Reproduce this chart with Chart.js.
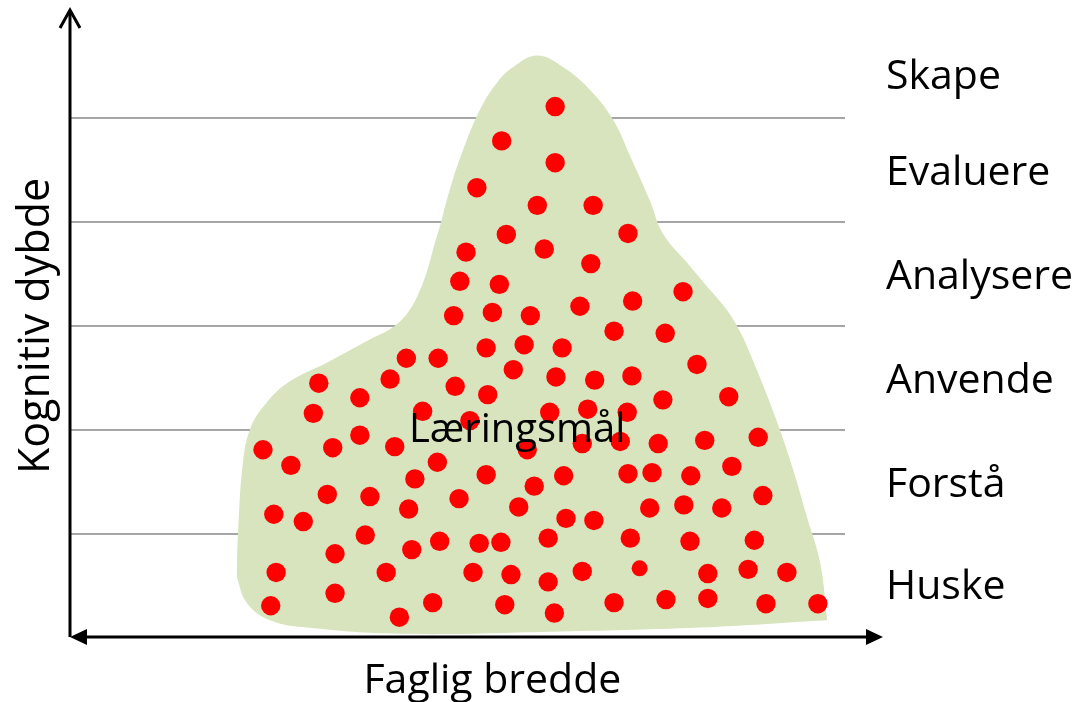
<!DOCTYPE html>
<html lang="no">
<head>
<meta charset="utf-8">
<title>Læringsmål</title>
<script src="https://cdn.jsdelivr.net/npm/chart.js@4.4.1/dist/chart.umd.min.js"></script>
<style>
  html, body { margin: 0; padding: 0; background: #fff; }
  #wrap { width: 1080px; height: 702px; }
</style>
</head>
<body>
<div id="wrap"><canvas id="chart" width="1080" height="702"></canvas></div>
<script>
// Nivåer (høyre side) og hvor de står på y-aksen
const levels = ['Huske', 'Forstå', 'Anvende', 'Analysere', 'Evaluere', 'Skape'];
const levelPos = [0.49, 1.47, 2.47, 3.47, 4.47, 5.39];
const gridLevels = [1, 2, 3, 4, 5];

// Læringsmål (røde prikker)
const dotX = [6.26, 5.57, 6.26, 5.25, 6.03, 6.75, 5.63, 7.2, 5.11, 6.12,
  6.72, 5.03, 5.54, 7.91, 4.95, 5.45, 5.94, 6.58, 7.26, 7.02,
  7.68, 5.37, 5.86, 6.35, 4.34, 4.75, 8.09, 5.72, 6.27, 6.77,
  7.25, 3.21, 4.13, 4.97, 5.39, 3.74, 7.65, 8.5, 3.14, 4.55,
  5.16, 6.19, 6.68, 7.19, 2.49, 3.39, 3.74, 4.19, 5.9, 6.61,
  7.1, 7.59, 8.19, 8.88, 2.85, 4.74, 8.54, 4.45, 5.37, 6.37,
  7.2, 7.51, 8.01, 5.99, 3.32, 3.87, 5.02, 8.94, 4.37, 5.79,
  7.48, 7.92, 8.41, 2.63, 3.01, 6.4, 6.76, 3.81, 4.77, 5.28,
  5.56, 6.17, 7.23, 8, 8.83, 4.41, 3.42, 2.66, 4.08, 5.2,
  5.69, 6.61, 8.23, 8.75, 9.25, 6.17, 3.42, 2.59, 4.68, 5.61,
  7.02, 7.69, 8.23, 8.98, 9.65, 4.25, 6.25];
const dotY = [5.11, 4.78, 4.57, 4.33, 4.16, 4.16, 3.88, 3.89, 3.71, 3.74,
  3.6, 3.43, 3.4, 3.33, 3.1, 3.13, 3.1, 3.19, 3.24, 2.95,
  2.93, 2.79, 2.82, 2.79, 2.69, 2.69, 2.63, 2.58, 2.51, 2.48,
  2.52, 2.45, 2.49, 2.42, 2.34, 2.31, 2.29, 2.32, 2.16, 2.18,
  2.09, 2.17, 2.2, 2.17, 1.81, 1.83, 1.95, 1.84, 1.81, 1.87,
  1.89, 1.87, 1.9, 1.93, 1.66, 1.69, 1.65, 1.53, 1.57, 1.56,
  1.58, 1.59, 1.56, 1.46, 1.38, 1.36, 1.34, 1.37, 1.24, 1.26,
  1.25, 1.28, 1.25, 1.19, 1.12, 1.15, 1.13, 0.99, 0.93, 0.91,
  0.92, 0.96, 0.96, 0.93, 0.94, 0.85, 0.81, 0.63, 0.63, 0.63,
  0.61, 0.64, 0.62, 0.66, 0.63, 0.54, 0.43, 0.31, 0.34, 0.32,
  0.34, 0.37, 0.38, 0.33, 0.33, 0.2, 0.24];
const smallDotX = [7.35];
const smallDotY = [0.67];

// Det grønne feltet: øvre og nedre kant
const blobTopX = [2.15, 2.17, 2.23, 2.32, 2.49, 2.8, 3.32, 3.57, 3.87, 4.15,
  4.36, 4.52, 4.62, 4.7, 4.77, 4.9, 5.07, 5.29, 5.51, 5.72,
  6.03, 6.36, 6.71, 7.01, 7.23, 7.48, 7.65, 7.96, 8.22, 8.48,
  8.65, 8.8, 8.98, 9.16, 9.33, 9.51, 9.68, 9.77];
const blobTopY = [0.59, 1.04, 1.68, 2.0, 2.22, 2.45, 2.65, 2.75, 2.87, 2.98,
  3.13, 3.35, 3.56, 3.78, 3.95, 4.31, 4.69, 5.08, 5.34, 5.49,
  5.6, 5.49, 5.27, 4.98, 4.63, 4.21, 3.89, 3.61, 3.38, 3.15,
  2.94, 2.69, 2.36, 2.0, 1.62, 1.16, 0.72, 0.17];
const blobBottomX = [2.15, 2.28, 2.58, 3.06, 4.26, 6.19, 8.13, 9.77];
const blobBottomY = [0.59, 0.34, 0.17, 0.1, 0.04, 0.06, 0.1, 0.17];

const FONT = "'Open Sans', 'Noto Sans', sans-serif";
const toPoints = (xs, ys) => xs.map((x, i) => ({ x, y: ys[i] }));

// Akser med piler
const axisArrows = {
  id: 'axisArrows',
  afterDraw(chart) {
    const { ctx, chartArea: a } = chart;
    const x0 = a.left;
    const y0 = a.bottom - 1;
    const xEnd = a.right + 38;
    ctx.save();
    ctx.strokeStyle = '#000';
    ctx.fillStyle = '#000';
    ctx.lineWidth = 3;
    ctx.beginPath();
    ctx.moveTo(x0, y0);
    ctx.lineTo(x0, a.top - 3);
    ctx.stroke();
    ctx.beginPath();
    ctx.moveTo(x0 - 10, a.top + 14);
    ctx.lineTo(x0, a.top - 4);
    ctx.lineTo(x0 + 10, a.top + 14);
    ctx.stroke();
    ctx.beginPath();
    ctx.moveTo(x0 + 10, y0);
    ctx.lineTo(xEnd - 10, y0);
    ctx.stroke();
    ctx.beginPath();
    ctx.moveTo(x0, y0);
    ctx.lineTo(x0 + 17, y0 - 8);
    ctx.lineTo(x0 + 17, y0 + 8);
    ctx.closePath();
    ctx.fill();
    ctx.beginPath();
    ctx.moveTo(xEnd, y0);
    ctx.lineTo(xEnd - 17, y0 - 8);
    ctx.lineTo(xEnd - 17, y0 + 8);
    ctx.closePath();
    ctx.fill();
    ctx.restore();
  }
};

// Tekst i feltet og under x-aksen
const textLabels = {
  id: 'textLabels',
  afterDatasetsDraw(chart) {
    const { ctx, chartArea: a, scales: { x, y } } = chart;
    ctx.save();
    ctx.fillStyle = '#000';
    ctx.textAlign = 'center';
    ctx.textBaseline = 'alphabetic';
    ctx.font = `40px ${FONT}`;
    ctx.fillText('Læringsmål', x.getPixelForValue(5.77), y.getPixelForValue(1.88));
    ctx.font = `41px ${FONT}`;
    ctx.fillText('Faglig bredde', x.getPixelForValue(5.45), a.bottom + 55);
    ctx.restore();
  }
};

function drawChart() {
  new Chart(document.getElementById('chart'), {
    type: 'scatter',
    data: {
      datasets: [
        { label: 'Læringsmål', data: toPoints(dotX, dotY), backgroundColor: '#ff0000', borderWidth: 0, pointRadius: 9.7 },
        { label: 'Læringsmål (liten)', data: toPoints(smallDotX, smallDotY), backgroundColor: '#ff0000', borderWidth: 0, pointRadius: 8 },
        { type: 'line', label: 'felt', data: toPoints(blobTopX, blobTopY), pointRadius: 0, borderWidth: 0,
          borderColor: 'rgba(0,0,0,0)', backgroundColor: '#d7e4bd', fill: '+1', tension: 0.4 },
        { type: 'line', label: 'felt bunn', data: toPoints(blobBottomX, blobBottomY), pointRadius: 0, borderWidth: 0,
          borderColor: 'rgba(0,0,0,0)', fill: false, tension: 0.4 }
      ]
    },
    options: {
      responsive: false,
      animation: false,
      events: [],
      layout: { padding: { top: 14, left: 0, right: 0, bottom: 0 } },
      plugins: {
        legend: { display: false },
        tooltip: { enabled: false },
        filler: { drawTime: 'beforeDatasetsDraw' }
      },
      scales: {
        x: {
          type: 'linear', min: 0, max: 10,
          grid: { display: false },
          border: { display: false },
          ticks: { display: false },
          afterFit(s) { s.height = 64; s.paddingLeft = 0; s.paddingRight = 0; }
        },
        y: {
          type: 'linear', position: 'left', min: 0, max: 6,
          ticks: { display: false, stepSize: 1 },
          border: { display: false },
          grid: {
            color: c => gridLevels.includes(c.tick.value) ? '#a6a6a6' : 'rgba(0,0,0,0)',
            lineWidth: 2,
            drawTicks: false
          },
          title: { display: true, text: 'Kognitiv dybde', color: '#000', font: { family: FONT, size: 43 }, padding: { top: 11, bottom: 0 } },
          afterFit(s) { s.width = 70; s.paddingTop = 0; s.paddingBottom = 0; }
        },
        y2: {
          type: 'linear', position: 'right', min: 0, max: 6,
          grid: { display: false, drawTicks: false },
          border: { display: false },
          afterBuildTicks(s) { s.ticks = levelPos.map(v => ({ value: v })); },
          ticks: { autoSkip: false, padding: 41, color: '#000', font: { family: FONT, size: 41 }, callback: (v, i) => levels[i] },
          afterFit(s) { s.width = 235; s.paddingTop = 0; s.paddingBottom = 0; }
        }
      }
    },
    plugins: [axisArrows, textLabels]
  });
}

document.fonts.load(`40px ${FONT}`).then(drawChart, drawChart);
</script>
</body>
</html>
